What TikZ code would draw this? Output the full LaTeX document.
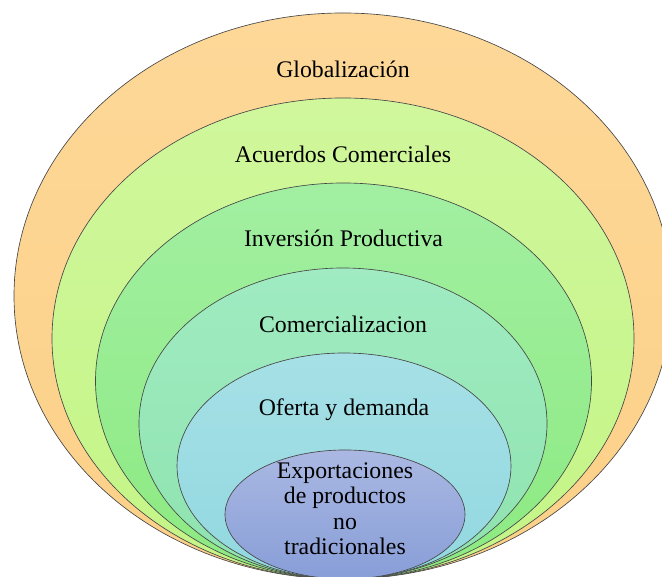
\documentclass[tikz,border=0pt]{standalone}
\usepackage{fontspec}
\setmainfont{Liberation Serif}
\usepackage{tikz}
\usetikzlibrary{shapes.geometric}

\definecolor{globtop}{RGB}{253,216,152}
\definecolor{globbot}{RGB}{252,208,136}
\definecolor{acuetop}{RGB}{208,247,156}
\definecolor{acuebot}{RGB}{196,245,134}
\definecolor{invetop}{RGB}{162,239,162}
\definecolor{invebot}{RGB}{140,234,128}
\definecolor{cometop}{RGB}{160,235,194}
\definecolor{comebot}{RGB}{142,227,174}
\definecolor{ofertop}{RGB}{166,224,230}
\definecolor{oferbot}{RGB}{146,216,224}
\definecolor{exportop}{RGB}{170,184,226}
\definecolor{exporbot}{RGB}{136,158,216}
\definecolor{rim}{RGB}{70,70,70}

\begin{document}
\begin{tikzpicture}[x=1pt,y=1pt,
    ring/.style={ellipse, draw=rim, line width=0.65pt, inner sep=0pt},
    lbl/.style={font={\fontsize{23.8}{25.5}\selectfont}, align=center, inner sep=0pt}]
    \useasboundingbox (0,0) rectangle (662,577);

    % nested rings, all touching the bottom edge
    \node[ring, top color=globtop, bottom color=globbot, minimum width=658pt, minimum height=566pt] (glob) at (343,281) {};
    \node[lbl] (tglob) at ([yshift=-57pt]glob.north) {Globalización};

    \node[ring, top color=acuetop, bottom color=acuebot, minimum width=582pt, minimum height=481pt] (acue) at (343,238.5) {};
    \node[lbl] (tacue) at ([yshift=-57pt]acue.north) {Acuerdos Comerciales};

    \node[ring, top color=invetop, bottom color=invebot, minimum width=496pt, minimum height=396pt] (inve) at (343.5,196) {};
    \node[lbl] (tinve) at ([yshift=-56pt]inve.north) {Inversión Productiva};

    \node[ring, top color=cometop, bottom color=comebot, minimum width=408pt, minimum height=311pt] (come) at (343,153.5) {};
    \node[lbl] (tcome) at ([yshift=-57pt]come.north) {Comercializacion};

    \node[ring, top color=ofertop, bottom color=oferbot, minimum width=334pt, minimum height=226pt] (ofer) at (344,111) {};
    \node[lbl] (tofer) at ([yshift=-57pt]ofer.north) {Oferta y demanda};

    \node[ring, top color=exportop, bottom color=exporbot, minimum width=240pt, minimum height=129pt] (expo) at (345,62.5) {};
    \node[lbl] (texpo) at ([yshift=-59pt]expo.north) {Exportaciones\\de productos\\no\\tradicionales};
\end{tikzpicture}
\end{document}
